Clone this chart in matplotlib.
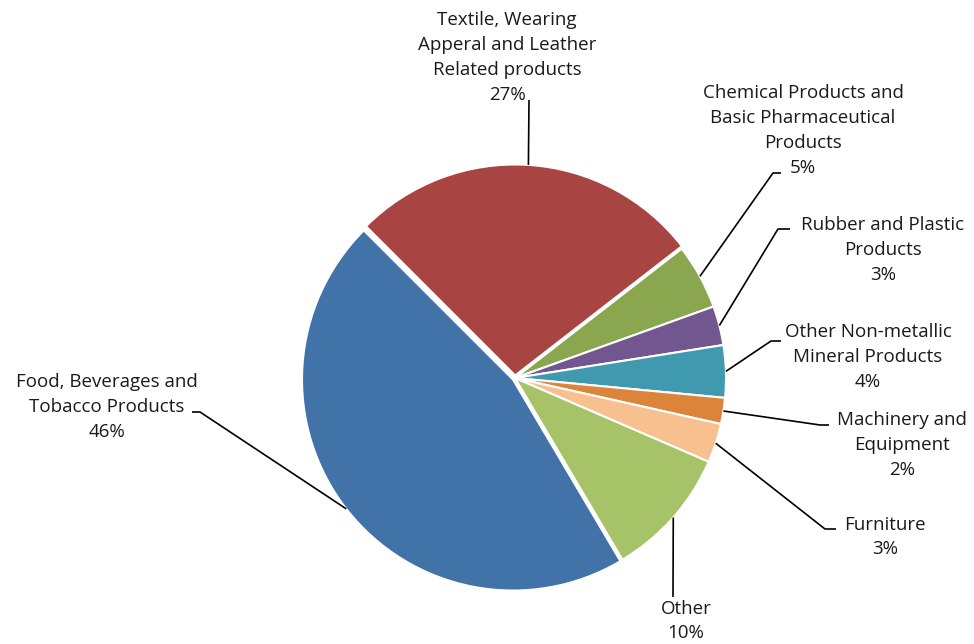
import numpy as np
import matplotlib
matplotlib.use("Agg")
import matplotlib.pyplot as plt

plt.rcParams["font.family"] = ["Open Sans", "DejaVu Sans"]

# sector shares, clockwise from the upper-left
categories = [
    "Textile, Wearing\nApperal and Leather\nRelated products",
    "Chemical Products and\nBasic Pharmaceutical\nProducts",
    "Rubber and Plastic\nProducts",
    "Other Non-metallic\nMineral Products",
    "Machinery and\nEquipment",
    "Furniture",
    "Other",
    "Food, Beverages and\nTobacco Products",
]
shares = [27, 5, 3, 4, 2, 3, 10, 46]
colors = ["#A84542", "#8AA64E", "#725690", "#3F9AAF", "#DC853A",
          "#F8C08F", "#A6C367", "#4172A8"]
explode = [0.012, 0, 0, 0, 0, 0, 0, 0.012]

# label block centres and leader elbows, in pixel units of the canvas
label_xy = [(507, 57), (803, 130), (883, 250), (868, 357),
            (902, 445), (885, 537), (686, 621), (107, 407)]
elbows = [
    [(529, 100)],
    [(773, 173), (781, 173)],
    [(778, 229), (790, 229)],
    [(771, 341), (781, 341)],
    [(820, 425), (829, 425)],
    [(825, 529), (836, 529)],
    [(673, 597)],
    [(200, 412), (192, 412)],
]

W, H = 974, 644
CX, CY, R = 515, 378, 211


def to_data(px, py):
    return (px - CX) / R, (CY - py) / R


fig = plt.figure(figsize=(W / 100, H / 100), dpi=100)
ax = fig.add_axes([0, 0, 1, 1])
wedges, _ = ax.pie(
    shares,
    colors=colors,
    explode=explode,
    startangle=135,
    counterclock=False,
    wedgeprops=dict(edgecolor="white", linewidth=1.5),
)
ax.set_xlim(-CX / R, (W - CX) / R)
ax.set_ylim(-(H - CY) / R, CY / R)
ax.set_aspect("equal")
ax.axis("off")

for w, cat, val, (lx, ly), pts, ex in zip(wedges, categories, shares,
                                          label_xy, elbows, explode):
    mid = np.deg2rad((w.theta1 + w.theta2) / 2)
    sx = (1 + ex) * np.cos(mid)
    sy = (1 + ex) * np.sin(mid)
    path = [(sx, sy)] + [to_data(*p) for p in pts]
    xs, ys = zip(*path)
    ax.plot(xs, ys, color="black", lw=1.2, solid_capstyle="butt")
    tx, ty = to_data(lx, ly)
    ax.text(tx, ty, f"{cat}\n{val}%", ha="center", va="center",
            fontsize=13.5, color="#1a1a1a", linespacing=1.5)

fig.savefig("out.png", dpi=100)
